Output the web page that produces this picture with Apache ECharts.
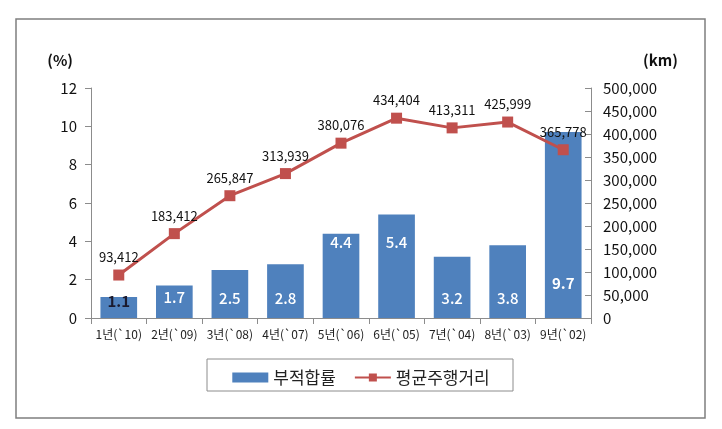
<!DOCTYPE html>
<html>
<head>
<meta charset="utf-8">
<script src="https://cdn.jsdelivr.net/npm/echarts@6/dist/echarts.min.js"></script>
<style>
html,body{margin:0;padding:0;background:#fff;}
#chart{width:722px;height:429px;}
</style>
</head>
<body>
<div id="chart"></div>
<script>
var categories = ["1년(`10)", "2년(`09)", "3년(`08)", "4년(`07)", "5년(`06)", "6년(`05)", "7년(`04)", "8년(`03)", "9년(`02)"];
var defectRate = [1.1, 1.7, 2.5, 2.8, 4.4, 5.4, 3.2, 3.8, 9.7];
var avgDistance = [93412, 183412, 265847, 313939, 380076, 434404, 413311, 425999, 365778];
var leftTicks = [0, 2, 4, 6, 8, 10, 12];
var rightTicks = [0, 50000, 100000, 150000, 200000, 250000, 300000, 350000, 400000, 450000, 500000];

var font = '"Noto Sans CJK KR", "Noto Sans", sans-serif';
var chart = echarts.init(document.getElementById('chart'));

function barLabel(i, v) {
  var lab = {show: true, color: '#ffffff', fontSize: 15, fontWeight: 500, fontFamily: font, position: 'insideBottom', distance: 12};
  if (i === 0) { lab.color = '#1a1a2e'; lab.distance = 9; lab.fontWeight = 'bold'; }
  if (i === 1) { lab.distance = 13; }
  if (i === 4 || i === 5) { lab.distance = 68; }
  if (i === 8) { lab.distance = 27; lab.fontWeight = 'bold'; }
  return lab;
}

var barData = defectRate.map(function (v, i) { return {value: v, label: barLabel(i, v)}; });

chart.setOption({
  animation: false,
  backgroundColor: '#ffffff',
  textStyle: {fontFamily: font},
  graphic: [{
    type: 'rect', shape: {x: 16, y: 19, width: 689, height: 399},
    style: {fill: 'none', stroke: '#7f7f7f', lineWidth: 1.5}, silent: true, z: -1
  }, {
    type: 'rect', shape: {x: 207, y: 359, width: 306, height: 32},
    style: {fill: 'none', stroke: '#8c8c8c', lineWidth: 1}, silent: true
  }],
  grid: {left: 91, right: 131, top: 88, bottom: 111},
  legend: {
    left: 'center', top: 364, itemGap: 18, itemWidth: 36, itemHeight: 10,
    textStyle: {fontSize: 17, color: '#222', fontFamily: font},
    data: [{name: '부적합률', icon: 'rect', itemStyle: {}}, {name: '평균주행거리'}]
  },
  xAxis: {
    type: 'category', data: categories,
    axisLine: {lineStyle: {color: '#8c8c8c'}},
    axisTick: {show: true, alignWithLabel: false, length: 6, lineStyle: {color: '#8c8c8c'}},
    axisLabel: {color: '#222', fontSize: 12, margin: 10, fontFamily: font, interval: 0}
  },
  yAxis: [{
    type: 'value', min: 0, max: 12, interval: 2,
    name: '(%)', nameLocation: 'end', nameGap: 20,
    nameTextStyle: {color: '#111', fontSize: 15, fontWeight: 'bold', align: 'right', padding: [0, 18, 0, 0], fontFamily: font},
    axisLine: {show: true, lineStyle: {color: '#8c8c8c'}},
    axisTick: {show: true, length: 6, lineStyle: {color: '#8c8c8c'}},
    axisLabel: {color: '#111', fontSize: 15, margin: 14, fontFamily: font},
    splitLine: {show: false}
  }, {
    type: 'value', min: 0, max: 500000, interval: 50000,
    name: '(km)', nameLocation: 'end', nameGap: 20,
    nameTextStyle: {color: '#111', fontSize: 15, fontWeight: 'bold', align: 'left', padding: [0, 0, 0, 52], fontFamily: font},
    axisLine: {show: true, lineStyle: {color: '#8c8c8c'}},
    axisTick: {show: true, inside: true, length: 6, lineStyle: {color: '#8c8c8c'}},
    axisLabel: {color: '#111', fontSize: 15, margin: 12, fontFamily: font,
      formatter: function (v) { return v.toLocaleString('en-US'); }},
    splitLine: {show: false}
  }],
  series: [{
    name: '부적합률', type: 'bar', yAxisIndex: 0, barWidth: '66%',
    itemStyle: {color: '#4F81BD'},
    data: barData
  }, {
    name: '평균주행거리', type: 'line', yAxisIndex: 1,
    symbol: 'rect', symbolSize: 11,
    lineStyle: {color: '#C0504D', width: 3},
    itemStyle: {color: '#C0504D'},
    label: {show: true, position: 'top', distance: 6, color: '#111', fontSize: 13, fontFamily: font,
      formatter: function (p) { return p.value.toLocaleString('en-US'); }},
    data: avgDistance
  }]
});
</script>
</body>
</html>
